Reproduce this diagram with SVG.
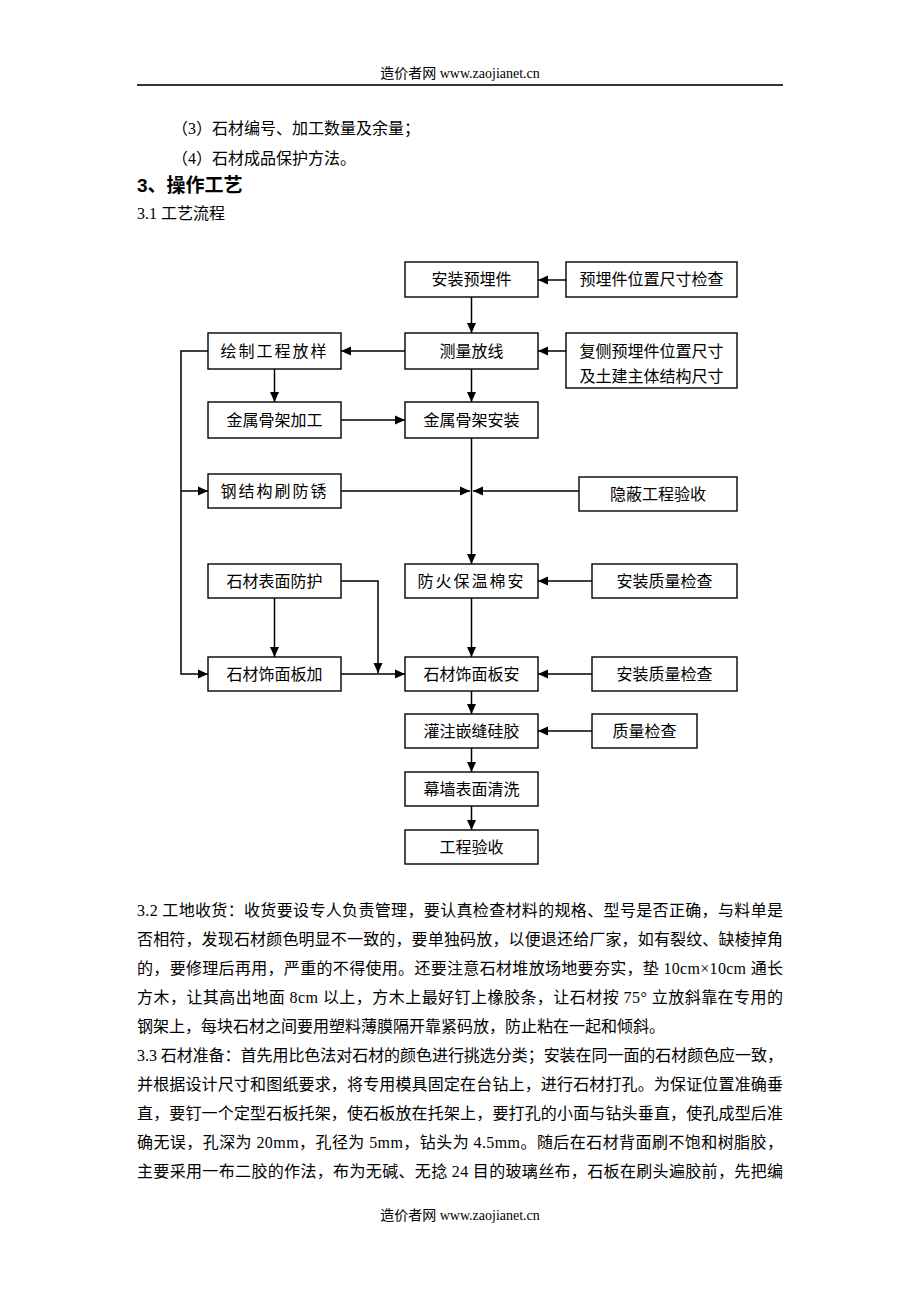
<svg xmlns="http://www.w3.org/2000/svg" width="920" height="1302" viewBox="0 0 920 1302">
<style>
text{font-family:"Liberation Serif","Noto Sans CJK SC",serif;fill:#000;}
.hd{font-size:14px;}
.p{font-size:16px;}
.b{font-size:16px;text-anchor:middle;}
.box{fill:#fff;stroke:#000;stroke-width:1.4;}
.c{fill:none;stroke:#000;stroke-width:1.5;}
.a{marker-end:url(#ah);}
</style>
<defs>
<marker id="ah" markerUnits="userSpaceOnUse" markerWidth="10" markerHeight="10" refX="10" refY="5" orient="auto">
<path d="M0,0.5 L10,5 L0,9.5 z" fill="#000"/>
</marker>
</defs>
<rect width="920" height="1302" fill="#fff"/>
<text class="hd" x="460" y="78" text-anchor="middle">造价者网  www.zaojianet.cn</text>
<line x1="137" y1="85" x2="783" y2="85" stroke="#333" stroke-width="2"/>
<text class="p" x="172" y="134">（3）石材编号、加工数量及余量；</text>
<text class="p" x="172" y="164">（4）石材成品保护方法。</text>
<text x="137" y="192" font-size="19" font-weight="bold" style="font-family:'Liberation Sans','Noto Sans CJK SC',sans-serif">3、操作工艺</text>
<text class="p" x="137" y="219">3.1 工艺流程</text>
<g id="connectors">
<line class="c a" x1="566" y1="280" x2="538" y2="280"/>
<line class="c a" x1="471.5" y1="297" x2="471.5" y2="333"/>
<line class="c a" x1="566" y1="351" x2="538" y2="351"/>
<line class="c a" x1="405" y1="351" x2="341" y2="351"/>
<line class="c a" x1="274.5" y1="369" x2="274.5" y2="402"/>
<line class="c a" x1="471.5" y1="369" x2="471.5" y2="402"/>
<line class="c a" x1="341" y1="420" x2="405" y2="420"/>
<polyline class="c a" points="208,351 181,351 181,674 208,674"/>
<line class="c a" x1="181" y1="491" x2="208" y2="491"/>
<line class="c a" x1="471.5" y1="438" x2="471.5" y2="564"/>
<line class="c a" x1="341" y1="491" x2="470" y2="491"/>
<line class="c a" x1="579" y1="491" x2="473" y2="491"/>
<line class="c a" x1="592" y1="581" x2="538" y2="581"/>
<line class="c a" x1="471.5" y1="598" x2="471.5" y2="657"/>
<line class="c a" x1="274.5" y1="598" x2="274.5" y2="657"/>
<polyline class="c a" points="341,581 378,581 378,673"/>
<line class="c a" x1="341" y1="674" x2="405" y2="674"/>
<line class="c a" x1="592" y1="674" x2="538" y2="674"/>
<line class="c a" x1="471.5" y1="691" x2="471.5" y2="714"/>
<line class="c a" x1="592" y1="731" x2="538" y2="731"/>
<line class="c a" x1="471.5" y1="748" x2="471.5" y2="772"/>
<line class="c a" x1="471.5" y1="806" x2="471.5" y2="830"/>
</g>
<g id="n1"><rect class="box" x="405" y="262" width="133" height="35"/><text class="b" x="471.5" y="285">安装预埋件</text></g>
<g id="n2"><rect class="box" x="566" y="262" width="171" height="35"/><text class="b" x="651.5" y="285">预埋件位置尺寸检查</text></g>
<g id="n3"><rect class="box" x="405" y="333" width="133" height="36"/><text class="b" x="471.5" y="357">测量放线</text></g>
<g id="n4"><rect class="box" x="566" y="333" width="171" height="55"/><text class="b" x="651.5" y="357">复侧预埋件位置尺寸</text><text class="b" x="651.5" y="382">及土建主体结构尺寸</text></g>
<g id="n5"><rect class="box" x="208" y="333" width="133" height="36"/><text class="b" x="274.5" y="357" letter-spacing="2">绘制工程放样</text></g>
<g id="n6"><rect class="box" x="208" y="402" width="133" height="36"/><text class="b" x="274.5" y="426">金属骨架加工</text></g>
<g id="n7"><rect class="box" x="405" y="402" width="133" height="36"/><text class="b" x="471.5" y="426">金属骨架安装</text></g>
<g id="n8"><rect class="box" x="208" y="474" width="133" height="34"/><text class="b" x="274.5" y="497" letter-spacing="2">钢结构刷防锈</text></g>
<g id="n9"><rect class="box" x="579" y="477" width="158" height="34"/><text class="b" x="658" y="500">隐蔽工程验收</text></g>
<g id="n10"><rect class="box" x="208" y="564" width="133" height="34"/><text class="b" x="274.5" y="587">石材表面防护</text></g>
<g id="n11"><rect class="box" x="405" y="564" width="133" height="34"/><text class="b" x="471.5" y="587" letter-spacing="2">防火保温棉安</text></g>
<g id="n12"><rect class="box" x="592" y="564" width="145" height="34"/><text class="b" x="664.5" y="587">安装质量检查</text></g>
<g id="n13"><rect class="box" x="208" y="657" width="133" height="34"/><text class="b" x="274.5" y="680">石材饰面板加</text></g>
<g id="n14"><rect class="box" x="405" y="657" width="133" height="34"/><text class="b" x="471.5" y="680">石材饰面板安</text></g>
<g id="n15"><rect class="box" x="592" y="657" width="145" height="34"/><text class="b" x="664.5" y="680">安装质量检查</text></g>
<g id="n16"><rect class="box" x="405" y="714" width="133" height="34"/><text class="b" x="471.5" y="737">灌注嵌缝硅胶</text></g>
<g id="n17"><rect class="box" x="592" y="714" width="105" height="34"/><text class="b" x="644.5" y="737">质量检查</text></g>
<g id="n18"><rect class="box" x="405" y="772" width="133" height="34"/><text class="b" x="471.5" y="795">幕墙表面清洗</text></g>
<g id="n19"><rect class="box" x="405" y="830" width="133" height="34"/><text class="b" x="471.5" y="853">工程验收</text></g>
<g id="body">
<text class="p" x="137" y="916" textLength="646" lengthAdjust="spacing">3.2 工地收货：收货要设专人负责管理，要认真检查材料的规格、型号是否正确，与料单是</text>
<text class="p" x="137" y="945" textLength="646" lengthAdjust="spacing">否相符，发现石材颜色明显不一致的，要单独码放，以便退还给厂家，如有裂纹、缺棱掉角</text>
<text class="p" x="137" y="974" textLength="646" lengthAdjust="spacing">的，要修理后再用，严重的不得使用。还要注意石材堆放场地要夯实，垫 10cm×10cm 通长</text>
<text class="p" x="137" y="1003" textLength="646" lengthAdjust="spacing">方木，让其高出地面 8cm 以上，方木上最好钉上橡胶条，让石材按 75° 立放斜靠在专用的</text>
<text class="p" x="137" y="1032">钢架上，每块石材之间要用塑料薄膜隔开靠紧码放，防止粘在一起和倾斜。</text>
<text class="p" x="137" y="1061" textLength="646" lengthAdjust="spacing">3.3 石材准备：首先用比色法对石材的颜色进行挑选分类；安装在同一面的石材颜色应一致，</text>
<text class="p" x="137" y="1090" textLength="646" lengthAdjust="spacing">并根据设计尺寸和图纸要求，将专用模具固定在台钻上，进行石材打孔。为保证位置准确垂</text>
<text class="p" x="137" y="1119" textLength="646" lengthAdjust="spacing">直，要钉一个定型石板托架，使石板放在托架上，要打孔的小面与钻头垂直，使孔成型后准</text>
<text class="p" x="137" y="1148" textLength="646" lengthAdjust="spacing">确无误，孔深为 20mm，孔径为 5mm，钻头为 4.5mm。随后在石材背面刷不饱和树脂胶，</text>
<text class="p" x="137" y="1177" textLength="646" lengthAdjust="spacing">主要采用一布二胶的作法，布为无碱、无捻 24 目的玻璃丝布，石板在刷头遍胶前，先把编</text>
</g>
<text class="hd" x="460" y="1220" text-anchor="middle">造价者网  www.zaojianet.cn</text>
</svg>
